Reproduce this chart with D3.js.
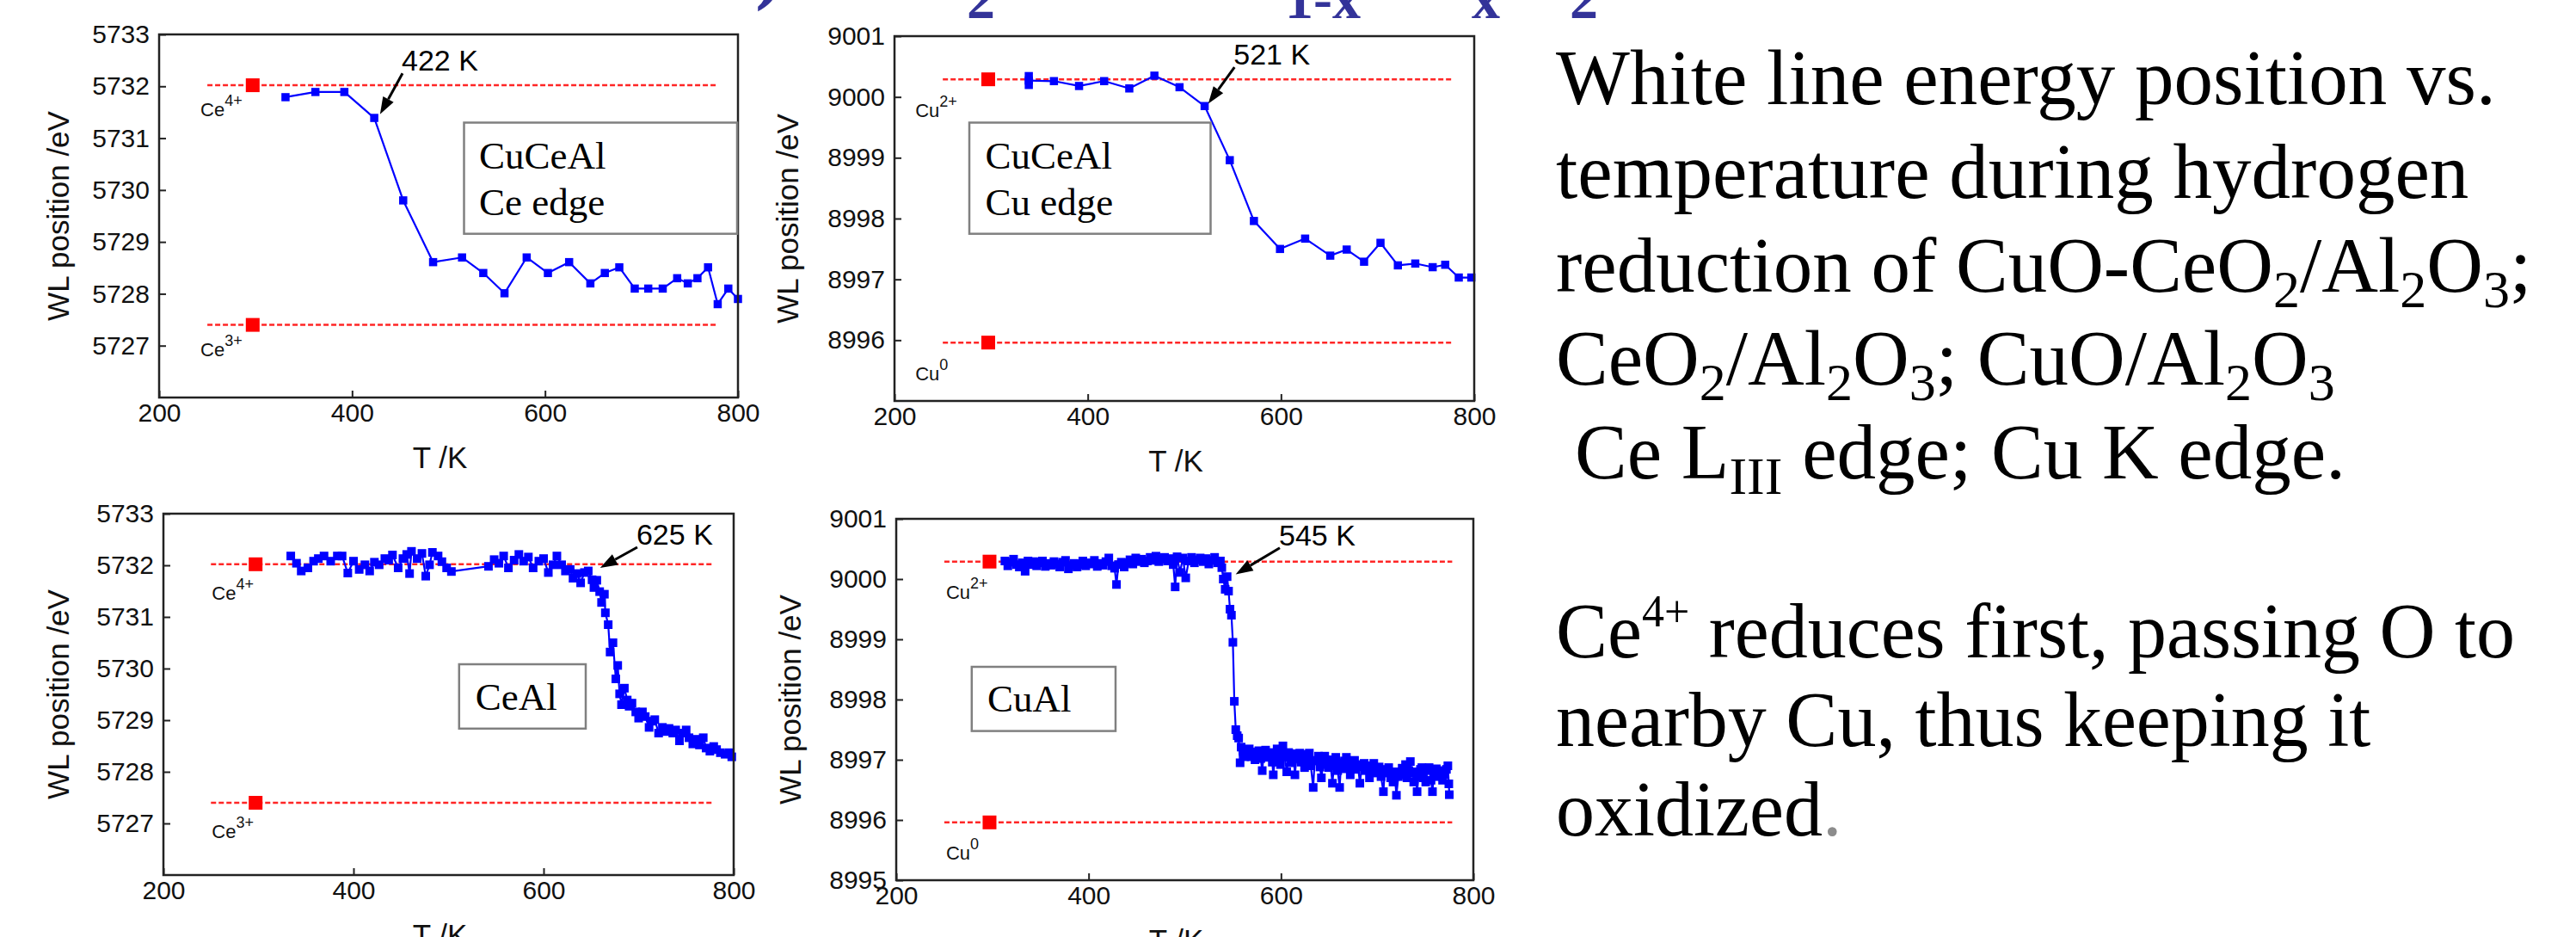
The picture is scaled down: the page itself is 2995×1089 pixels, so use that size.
<!DOCTYPE html>
<html><head><meta charset="utf-8">
<script src="https://cdn.jsdelivr.net/npm/d3@7"></script>
<style>body{margin:0;background:#fff;} svg{display:block;}</style>
</head><body><svg id="c" width="2995" height="1089"></svg>
<script>
// ---------------- DATA ----------------
const xTickValues = [200, 400, 600, 800];
const ceTickValues = [5727, 5728, 5729, 5730, 5731, 5732, 5733];
const cuTickValuesTop = [8996, 8997, 8998, 8999, 9000, 9001];
const cuTickValuesBottom = [8995, 8996, 8997, 8998, 8999, 9000, 9001];

const ceRefLevels = [5732.02, 5727.40];
const ceRefLabels = [["Ce", "4+"], ["Ce", "3+"]];
const cuRefLevels = [9000.29, 8995.96];
const cuRefLabels = [["Cu", "2+"], ["Cu", "0"]];
const refTemp = 297;
const refLineSpan = [250, 778];

const panelTitles = [["CuCeAl", "Ce edge"], ["CuCeAl", "Cu edge"], ["CeAl"], ["CuAl"]];
const onsetLabels = ["422 K", "521 K", "625 K", "545 K"];

// CuCeAl, Ce edge
const tlTemps = [331, 362, 392, 423, 453, 484, 514, 536, 558, 581, 603, 625, 647, 662, 677, 693, 707, 722, 737, 748, 758, 769, 779, 790, 800];
const tlWL = [5731.79, 5731.89, 5731.89, 5731.39, 5729.80, 5728.61, 5728.70, 5728.40, 5728.01, 5728.70, 5728.40, 5728.61, 5728.20, 5728.40, 5728.51, 5728.10, 5728.10, 5728.10, 5728.30, 5728.20, 5728.30, 5728.51, 5727.80, 5728.10, 5727.90];

// CuCeAl, Cu edge
const trTemps = [339, 365, 391, 417, 443, 469, 495, 521, 547, 572, 599, 625, 651, 668, 686, 703, 721, 739, 757, 770, 784, 797];
const trWL = [9000.27, 9000.26, 9000.18, 9000.26, 9000.14, 9000.35, 9000.16, 8999.85, 8998.96, 8997.96, 8997.50, 8997.67, 8997.39, 8997.49, 8997.29, 8997.60, 8997.23, 8997.26, 8997.20, 8997.24, 8997.03, 8997.03];
const trFirstSpread = 0.14;

// CeAl
const blTemps = [
 334, 340, 345, 352, 358, 363, 369, 376, 383, 388,
 394, 400, 406, 412, 417, 422, 427, 433, 437, 441,
 447, 452, 456, 459, 461, 467, 472, 476, 480, 483,
 489, 493, 498, 503, 542, 548, 553, 558, 563, 569,
 574, 579, 584, 589, 595, 600, 605, 610, 614, 619,
 623, 628, 631, 635, 639, 643, 647, 651, 653, 656,
 659, 661, 664, 665, 668, 670, 673, 676, 678, 680,
 682, 685, 688, 690, 693, 697, 700, 704, 707, 711,
 714, 717, 721, 725, 728, 732, 736, 739, 743, 746,
 750, 753, 757, 760, 764, 768, 771, 775, 779, 782,
 786, 791, 795, 798];
const blWL = [
 5732.18, 5732.04, 5731.89, 5731.95, 5732.08, 5732.13, 5732.18, 5732.08, 5732.18, 5732.18,
 5731.85, 5732.08, 5731.92, 5732.01, 5731.89, 5732.06, 5732.01, 5732.13, 5732.10, 5732.20,
 5731.95, 5732.13, 5732.21, 5731.84, 5732.27, 5732.13, 5732.23, 5731.79, 5732.01, 5732.25,
 5732.18, 5732.07, 5731.95, 5731.88, 5731.98, 5732.11, 5732.04, 5732.18, 5731.95, 5732.10,
 5732.21, 5732.08, 5732.16, 5731.95, 5732.08, 5732.13, 5731.86, 5732.01, 5732.18, 5732.01,
 5731.89, 5731.92, 5731.75, 5731.84, 5731.66, 5731.86, 5731.89, 5731.72, 5731.57, 5731.71,
 5731.49, 5731.28, 5731.44, 5731.08, 5730.85, 5730.32, 5730.50, 5729.80, 5730.06, 5729.51,
 5729.30, 5729.62, 5729.39, 5729.27, 5729.33, 5729.16, 5729.04, 5729.16, 5729.07, 5728.86,
 5728.98, 5729.01, 5728.75, 5728.86, 5728.78, 5728.84, 5728.75, 5728.81, 5728.60, 5728.75,
 5728.81, 5728.66, 5728.54, 5728.63, 5728.52, 5728.66, 5728.46, 5728.40, 5728.49, 5728.43,
 5728.37, 5728.34, 5728.37, 5728.29];

// CuAl
const brTemps = [
 313, 316, 319, 322, 325, 328, 331, 334, 337, 340,
 343, 346, 349, 352, 355, 358, 361, 364, 367, 370,
 373, 376, 379, 382, 385, 388, 391, 394, 397, 400,
 403, 406, 409, 412, 415, 418, 421, 424, 427, 429,
 431, 434, 437, 440, 443, 446, 449, 452, 455, 458,
 461, 464, 467, 470, 473, 476, 479, 482, 485, 488,
 490, 492, 495, 498, 501, 504, 507, 510, 513, 516,
 519, 522, 525, 528, 531, 534, 537,
 538.5, 540, 542, 544, 545.5, 547, 548.5, 550, 551.5, 553,
 554.5, 556, 557.5, 558.6, 560.5, 562.5,
 565, 567, 569, 571, 573, 575, 577, 579, 580.5, 582,
 584, 586, 588, 589.5, 591, 592, 594, 596, 598, 599.5,
 601, 602, 604, 606, 608, 609.5, 611, 613, 614.5, 616,
 618, 619.5, 621, 623, 624.5, 626, 628, 629.5, 631, 633.5,
 635, 637, 639, 640.5, 642, 644, 645.5, 647, 649.5, 651,
 653.5, 655, 657, 659, 661, 662.5, 664, 666, 668, 670,
 672, 674, 676.5, 678, 680, 682, 684, 686.5, 688, 690,
 692, 694, 696.5, 698, 700.5, 702, 704, 706.5, 708, 710,
 712, 714, 716.5, 718, 720, 722, 724, 726, 728, 729.5,
 731, 733, 734.5, 736, 738, 740, 741.5, 743, 745, 746.5,
 748, 750.5, 752, 754, 756, 757.5, 759, 761.5, 763, 765,
 766.5, 768, 770.5, 772, 773.5, 774.5, 775];
const brWL = [
 9000.30, 9000.22, 9000.28, 9000.33, 9000.24, 9000.20, 9000.27, 9000.13, 9000.30, 9000.24,
 9000.29, 9000.22, 9000.27, 9000.30, 9000.21, 9000.26, 9000.23, 9000.29, 9000.25, 9000.20,
 9000.28, 9000.31, 9000.17, 9000.22, 9000.26, 9000.20, 9000.24, 9000.30, 9000.22, 9000.27,
 9000.25, 9000.31, 9000.21, 9000.26, 9000.23, 9000.29, 9000.35, 9000.22, 9000.18, 8999.91,
 9000.24, 9000.28, 9000.20, 9000.27, 9000.32, 9000.25, 9000.35, 9000.29, 9000.33, 9000.27,
 9000.30, 9000.36, 9000.31, 9000.38, 9000.29, 9000.33, 9000.36, 9000.30, 9000.34, 9000.24,
 8999.87, 9000.37, 9000.11, 9000.35, 9000.02, 9000.30, 9000.36, 9000.27, 9000.32, 9000.35,
 9000.29, 9000.34, 9000.25, 9000.31, 9000.36, 9000.27, 9000.30,
 9000.19, 9000.00, 8999.83, 9000.04, 8999.80, 8999.50, 8999.40, 8998.95, 8997.97, 8997.50,
 8997.40, 8997.36, 8996.95, 8997.21, 8997.15, 8997.05,
 8997.12, 8997.18, 8997.05, 8997.13, 8997.00, 8997.10, 8997.15, 8997.02, 8996.82, 8997.08,
 8997.16, 8997.04, 8997.12, 8997.11, 8996.96, 8996.75, 8997.06, 8997.18, 8997.00, 8996.92,
 8997.10, 8997.23, 8997.05, 8996.80, 8997.12, 8997.04, 8996.95, 8997.10, 8996.75, 8997.02,
 8997.08, 8997.11, 8996.96, 8997.05, 8996.87, 8997.09, 8997.00, 8997.11, 8996.90, 8996.54,
 8996.98, 8996.99, 8997.06, 8996.88, 8996.70, 8996.95, 8997.06, 8996.92, 8996.87, 8997.00,
 8996.61, 8996.90, 8997.04, 8996.82, 8996.54, 8996.95, 8996.85, 8996.98, 8997.04, 8996.86,
 8996.75, 8996.96, 8996.99, 8996.84, 8996.92, 8996.61, 8996.88, 8996.94, 8996.82, 8996.90,
 8996.70, 8996.85, 8996.94, 8996.78, 8996.80, 8996.88, 8996.72, 8996.47, 8996.84, 8996.78,
 8996.87, 8996.70, 8996.63, 8996.80, 8996.41, 8996.72, 8996.75, 8996.86, 8996.80, 8996.92,
 8996.70, 8996.82, 8996.97, 8996.78, 8996.63, 8996.80, 8996.47, 8996.72, 8996.84, 8996.87,
 8996.70, 8996.63, 8996.82, 8996.87, 8996.66, 8996.47, 8996.78, 8996.85, 8996.72, 8996.82,
 8996.80, 8996.66, 8996.75, 8996.84, 8996.90, 8996.60, 8996.42];

// onset annotations: [label T, label WL, arrow tip T, arrow tip WL]
const onsetPositions = [[451.4, 5732.30, 429, 5731.46], [551, 9000.53, 524.7, 8999.89], [697.7, 5732.40, 659.5, 5731.95], [597.9, 9000.56, 552.9, 9000.08]];

// Slide texts
const titleFragments = [")", "2", "1-x", "x", "2"];
const notesLines = [
  [["White line energy position vs."]],
  [["temperature during hydrogen"]],
  [["reduction of CuO-CeO"], ["2", "sub"], ["/Al"], ["2", "sub"], ["O"], ["3", "sub"], [";"]],
  [["CeO"], ["2", "sub"], ["/Al"], ["2", "sub"], ["O"], ["3", "sub"], ["; CuO/Al"], ["2", "sub"], ["O"], ["3", "sub"]],
  [["Ce L"], ["III", "sub"], [" edge; Cu K edge."]]
];
const conclusionLines = [
  [["Ce"], ["4+", "sup"], [" reduces first, passing O to"]],
  [["nearby Cu, thus keeping it"]],
  [["oxidized"], [".", "grey"]]
];

// ---------------- RENDER ----------------
const SANS = "'Liberation Sans', Arial, sans-serif";
const SERIF = "'Liberation Serif', 'Times New Roman', serif";
const svg = d3.select("#c");

const panels = [
  {l:185, r:858, t:40, b:462, yDomain:[5726,5733], yTicks:ceTickValues, temps:tlTemps, wl:tlWL,
   refs:ceRefLevels, refLabels:ceRefLabels, refDx:-8, refDy:36, mk:9.5,
   box:[539.5,142.5,857,271.7], boxTextX:557, boxBaselines:[195.6,249.5], yTitleX:80},
  {l:1040, r:1714, t:42, b:466, yDomain:[8995,9001], yTicks:cuTickValuesTop, temps:trTemps, wl:trWL,
   refs:cuRefLevels, refLabels:cuRefLabels, refDx:-32, refDy:44, mk:9.5,
   box:[1127,142.5,1407.5,271.7], boxTextX:1145.5, boxBaselines:[195.6,249.5], yTitleX:928, spreadFirst:trFirstSpread},
  {l:190, r:853, t:597, b:1017, yDomain:[5726,5733], yTicks:ceTickValues, temps:blTemps, wl:blWL,
   refs:ceRefLevels, refLabels:ceRefLabels, refDx:1, refDy:41, mk:10,
   box:[533.8,772,681,846.8], boxTextX:552.8, boxBaselines:[825], yTitleX:80},
  {l:1042, r:1713, t:603, b:1023, yDomain:[8995,9001], yTicks:cuTickValuesBottom, temps:brTemps, wl:brWL,
   refs:cuRefLevels, refLabels:cuRefLabels, refDx:2, refDy:43, mk:10,
   box:[1129.8,775,1297,849.6], boxTextX:1148, boxBaselines:[826.8], yTitleX:931}
];

panels.forEach((p, pi) => {
  const g = svg.append("g");
  const x = d3.scaleLinear().domain([200, 800]).range([p.l, p.r]);
  const y = d3.scaleLinear().domain(p.yDomain).range([p.b, p.t]);

  // reference levels
  p.refs.forEach((lev, i) => {
    g.append("line").attr("x1", x(refLineSpan[0])).attr("x2", x(refLineSpan[1]))
      .attr("y1", y(lev)).attr("y2", y(lev))
      .attr("stroke", "#ff2626").attr("stroke-width", 2.5).attr("stroke-dasharray", "6,3");
    g.append("rect").attr("x", x(refTemp) - 8).attr("y", y(lev) - 8)
      .attr("width", 16).attr("height", 16).attr("fill", "#ff0000");
    const t = g.append("text").attr("x", x(refLineSpan[0]) + p.refDx).attr("y", y(lev) + p.refDy)
      .attr("font-family", SANS).attr("font-size", 22).attr("fill", "#111");
    t.append("tspan").text(p.refLabels[i][0]);
    t.append("tspan").attr("dy", -12).attr("font-size", 18).text(p.refLabels[i][1]);
  });

  // data
  const pts = p.temps.map((T, i) => [T, p.wl[i]]);
  g.append("path").datum(pts)
    .attr("d", d3.line().x(d => x(d[0])).y(d => y(d[1])))
    .attr("fill", "none").attr("stroke", "#0000ff").attr("stroke-width", 2.2).attr("stroke-linejoin", "round");
  const h = p.mk / 2;
  g.selectAll("rect.mk").data(pts).join("rect").attr("class", "mk")
    .attr("x", d => x(d[0]) - h).attr("y", d => y(d[1]) - h)
    .attr("width", p.mk).attr("height", p.mk).attr("fill", "#0000ff");
  if (p.spreadFirst) {
    const d = pts[0];
    g.append("rect").attr("x", x(d[0]) - h).attr("y", y(d[1] + p.spreadFirst))
      .attr("width", p.mk).attr("height", y(d[1] - p.spreadFirst) - y(d[1] + p.spreadFirst)).attr("fill", "#0000ff");
  }

  // axes
  const ya = g.append("g").attr("transform", `translate(${p.l},0)`)
    .call(d3.axisLeft(y).tickValues(p.yTicks).tickFormat(d3.format("d")).tickSize(-8).tickPadding(11));
  ya.select(".domain").remove();
  ya.selectAll("text").attr("font-family", SANS).attr("font-size", 30).attr("fill", "#111");
  ya.selectAll("line").attr("stroke", "#222").attr("stroke-width", 2);
  const xa = g.append("g").attr("transform", `translate(0,${p.b})`)
    .call(d3.axisBottom(x).tickValues(xTickValues).tickFormat(d3.format("d")).tickSize(-8).tickPadding(7));
  xa.select(".domain").remove();
  xa.selectAll("text").attr("font-family", SANS).attr("font-size", 30).attr("fill", "#111");
  xa.selectAll("line").attr("stroke", "#222").attr("stroke-width", 2);

  // frame
  g.append("rect").attr("x", p.l).attr("y", p.t).attr("width", p.r - p.l).attr("height", p.b - p.t)
    .attr("fill", "none").attr("stroke", "#222").attr("stroke-width", 2.5);

  // axis titles
  g.append("text").attr("transform", `translate(${p.yTitleX},${(p.t + p.b) / 2}) rotate(-90)`)
    .attr("text-anchor", "middle").attr("font-family", SANS).attr("font-size", 35).attr("fill", "#111")
    .text("WL position /eV");
  g.append("text").attr("x", (p.l + p.r) / 2 - 10).attr("y", p.b + 82)
    .attr("text-anchor", "middle").attr("font-family", SANS).attr("font-size", 35).attr("fill", "#111")
    .text("T /K");

  // sample box
  const bx = p.box;
  g.append("rect").attr("x", bx[0]).attr("y", bx[1]).attr("width", bx[2] - bx[0]).attr("height", bx[3] - bx[1])
    .attr("fill", "none").attr("stroke", "#808080").attr("stroke-width", 2.5);
  panelTitles[pi].forEach((s, i) => {
    g.append("text").attr("x", p.boxTextX).attr("y", p.boxBaselines[i])
      .attr("font-family", SERIF).attr("font-size", 45).attr("fill", "#000").text(s);
  });

  // onset annotation
  const op = onsetPositions[pi];
  const lx = x(op[0]), ly = y(op[1]);
  g.append("text").attr("x", lx).attr("y", ly).attr("font-family", SANS).attr("font-size", 34)
    .attr("fill", "#000").text(onsetLabels[pi]);
  const x0 = lx + 1, y0 = ly + 3, x1 = x(op[2]), y1 = y(op[3]);
  const ang = Math.atan2(y1 - y0, x1 - x0), L = 20, W = 7;
  const bxp = x1 - L * Math.cos(ang), byp = y1 - L * Math.sin(ang);
  g.append("line").attr("x1", x0).attr("y1", y0).attr("x2", bxp).attr("y2", byp)
    .attr("stroke", "#000").attr("stroke-width", 3);
  g.append("path").attr("d", `M${x1},${y1}L${bxp + W * Math.sin(ang)},${byp - W * Math.cos(ang)}L${bxp - W * Math.sin(ang)},${byp + W * Math.cos(ang)}Z`)
    .attr("fill", "#000");
});

// title fragments (clipped at the top of the slide)
const fragPos = [[878, -8, 100], [1124, 21, 66], [1494, 21, 66], [1711, 21, 66], [1825, 21, 66]];
titleFragments.forEach((s, i) => {
  svg.append("text").attr("x", fragPos[i][0]).attr("y", fragPos[i][1])
    .attr("font-family", SERIF).attr("font-weight", "bold").attr("font-size", fragPos[i][2])
    .attr("fill", "#333399").text(s);
});

// right-hand texts
function writeLines(lines, x0, baselines, size) {
  lines.forEach((segs, li) => {
    const t = svg.append("text").attr("x", li === 4 && lines === notesLines ? x0 + 22 : x0).attr("y", baselines[li])
      .attr("font-family", SERIF).attr("font-size", size).attr("fill", "#000").style("white-space", "pre");
    let shift = 0;
    segs.forEach(([s, kind]) => {
      const ts = t.append("tspan").text(s);
      let target = 0;
      if (kind === "sub") { ts.attr("font-size", 62); target = 18; }
      else if (kind === "sup") { ts.attr("font-size", 52); target = -36; }
      else if (kind === "grey") { ts.attr("fill", "#8c8c8c"); }
      if (target - shift !== 0) ts.attr("dy", target - shift);
      shift = target;
    });
  });
}
writeLines(notesLines, 1809, [121, 230, 338.5, 447, 556], 91);
writeLines(conclusionLines, 1809, [764, 867, 971], 90);
</script>
</body></html>
